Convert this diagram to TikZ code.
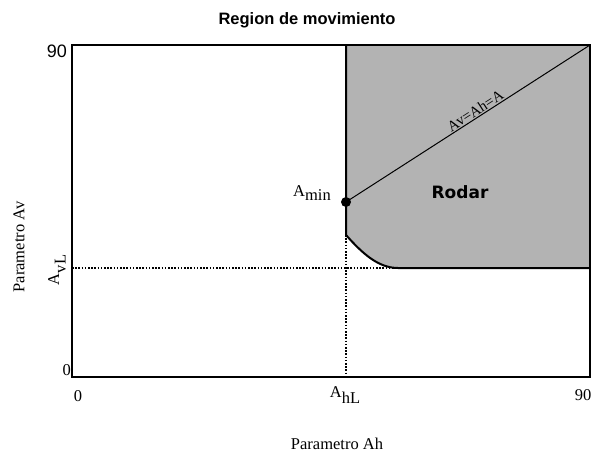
\documentclass[tikz,border=0pt]{standalone}
\usepackage{fontspec}
\setmainfont{Liberation Serif}
\newfontfamily\helv{Liberation Sans}
\newfontfamily\dejavu{DejaVu Sans}
\definecolor{regiongray}{HTML}{B3B3B3}
\begin{document}
\begin{tikzpicture}[x=1pt,y=-1pt,
  frame/.style={line width=2.5pt},
  border/.style={line width=2pt},
  diag/.style={line width=1pt},
  dots/.style={line width=1.6pt,dash pattern=on 1.6pt off 1.6pt},
  serif/.style={font=\fontsize{16.5}{18}\selectfont, inner sep=0pt},
  sanslab/.style={font=\helv\fontsize{18}{20}\selectfont, inner sep=0pt},
  boldlab/.style={font=\dejavu\bfseries\fontsize{17}{19}\selectfont, inner sep=0pt}]
\useasboundingbox (0,0) rectangle (593,456);
% key points
\coordinate (tl) at (72,45);
\coordinate (tr) at (590,45);
\coordinate (br) at (590,377);
\coordinate (bl) at (72,377);
\coordinate (gtl) at (346,45);
\coordinate (gbr) at (590,268);
\coordinate (cend) at (398,268);
\coordinate (cstart) at (346,235);
\coordinate (amin) at (346,202);
\coordinate (avl) at (72,268);
\coordinate (dotend) at (432,268);
\coordinate (ahl) at (346,377);
% dotted guides
\draw[dots] (avl) -- (dotend);
\draw[dots] (cstart) -- (ahl);
% grey region
\fill[regiongray] (gtl) -- (tr) -- (gbr) -- (cend) .. controls (378,268) and (362,253) .. (cstart) -- cycle;
\draw[border] (gtl) -- (cstart) .. controls (362,253) and (378,268) .. (cend) -- (gbr);
% frame
\draw[frame] (tl) -- (tr) -- (br) -- (bl) -- cycle;
% diagonal
\draw[diag] (amin) -- node[pos=0.545, sloped, above=1pt, inner sep=0pt, font=\fontsize{15}{17}\selectfont] (diaglab) {Av=Ah=A} (tr);
\fill (amin) circle (5pt);
% labels
\node[inner sep=0pt, font=\helv\bfseries\fontsize{16.5}{18}\selectfont] (title) at (307,20) {Region de movimiento};
\node[boldlab] (rodar) at (460,192) {Rodar};
\node[serif, anchor=base east] (aminlab) at (331,196) {A\raisebox{-0.28em}{min}};
\node[sanslab, anchor=base east] (ninety) at (67,57) {90};
\node[serif, anchor=base east] (zeroy) at (71,375) {0};
\node[serif, anchor=base] (zerox) at (78,401) {0};
\node[serif, anchor=base] (ninetyx) at (583,400) {90};
\node[serif, anchor=base] (ahllab) at (345,397) {A\raisebox{-0.4em}{hL}};
\node[serif, anchor=base, rotate=90] (avllab) at (59,270) {A\raisebox{-0.4em}{vL}};
\node[serif, rotate=90] (paramav) at (19,247) {Parametro Av};
\node[serif] (paramah) at (337,444) {Parametro Ah};
\end{tikzpicture}
\end{document}
